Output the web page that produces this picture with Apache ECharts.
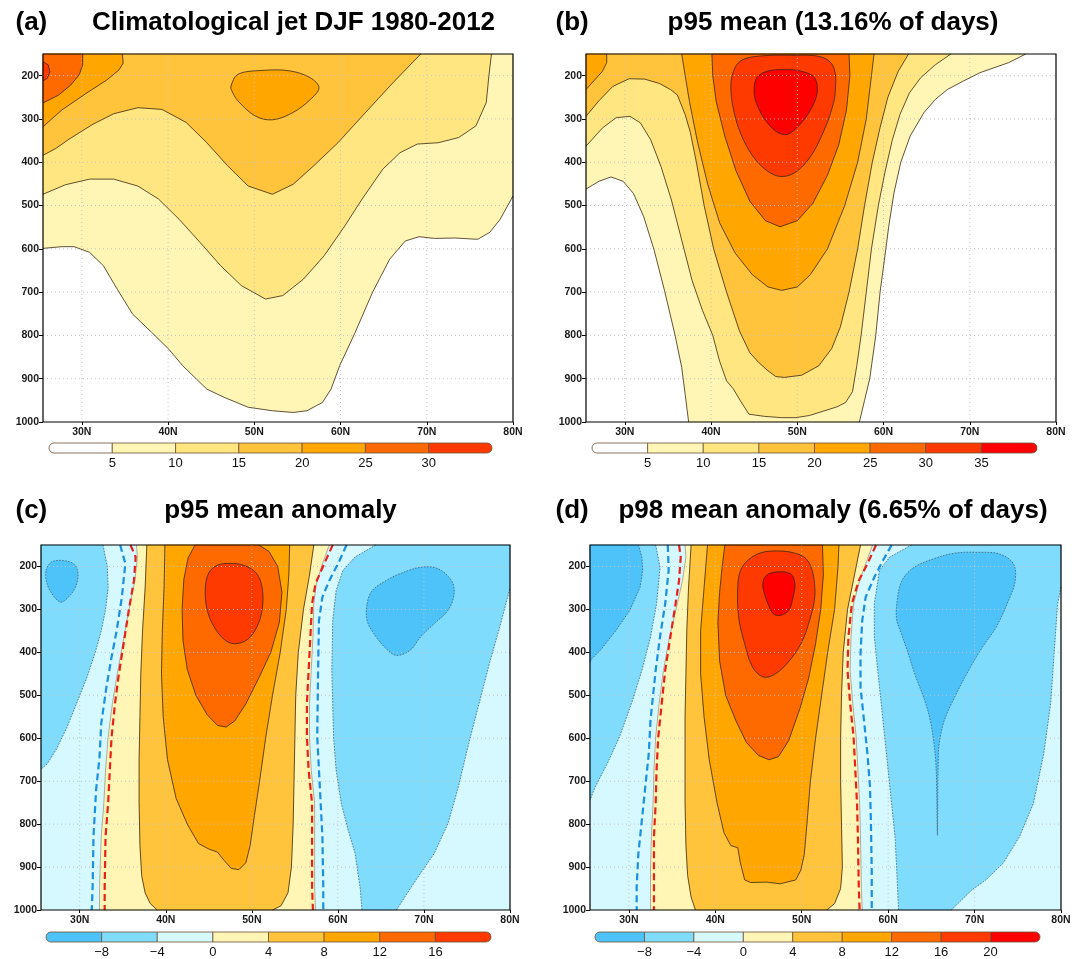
<!DOCTYPE html>
<html>
<head>
<meta charset="utf-8">
<script src="https://cdn.jsdelivr.net/npm/echarts@6.0.0/dist/echarts.min.js"></script>
<style>
html, body { margin: 0; padding: 0; background: #fff; }
#chart { width: 1079px; height: 959px; }
</style>
</head>
<body>
<div id="chart"></div>
<script>
// axes
const latMin = 25.5, latMax = 80, pTop = 150, pBot = 1000;
const latTicks = [30, 40, 50, 60, 70, 80];
const pTicks = [200, 300, 400, 500, 600, 700, 800, 900, 1000];
const latGrid = [30, 40, 50, 60, 70];
const pGrid = [200, 300, 400, 500, 600, 700, 800, 900];

// shading classes (colour bars)
const warmColors = ['#ffffff', '#fff5b4', '#ffe680', '#ffc43c', '#ffa600', '#ff6a00', '#ff3a00', '#ff0000'];
const anomColors = ['#4dc3fa', '#80dcfc', '#d5f9ff', '#fff5b4', '#ffc43c', '#ffa600', '#ff6a00', '#ff3a00', '#ff0000'];
const aBarLabels = ['5', '10', '15', '20', '25', '30'];
const bBarLabels = ['5', '10', '15', '20', '25', '30', '35'];
const cBarLabels = ['\u22128', '\u22124', '0', '4', '8', '12', '16'];
const dBarLabels = ['\u22128', '\u22124', '0', '4', '8', '12', '16', '20'];

// (a) climatological jet, contour lines [lat, hPa]
const aLine5 = [[25.5,599],[27.7,595],[29.1,595],[30.9,608],[32.5,639],[34.1,693],[35.9,751],[38.1,793],[40.1,832],[41.7,870],[43.3,901],[44.5,924],[46.5,943],[49.3,966],[52.1,974],[54.5,978],[56.1,974],[57.9,955],[58.9,924],[59.9,870],[61.7,793],[63.7,701],[65.7,624],[67.5,582],[69.1,572],[70.9,576],[73.3,575],[75.9,578],[77.3,562],[78.5,532],[80,478]];
const aLine10 = [[25.5,474],[28.1,452],[30.9,439],[33.7,439],[36.5,455],[38.9,485],[41.3,532],[43.7,585],[46.1,639],[48.5,685],[51.3,716],[53.3,708],[55.7,670],[58.1,616],[60.5,547],[62.5,485],[64.9,416],[66.9,378],[68.9,358],[71.3,355],[73.7,343],[75.7,316],[76.9,262],[77.2,201],[77.5,150]];
const aLine15 = [[25.5,384],[27,368],[28.5,347],[31.3,312],[33.7,288],[36.5,274],[39.3,278],[42.1,308],[44.5,355],[46.9,408],[49.3,455],[52.1,474],[54.5,451],[56.9,408],[59.7,355],[62.9,285],[66.1,216],[69.3,150]];
const aLine20w = [[25.5,318],[27.7,279],[30.5,241],[32.9,210],[34.3,187],[34.8,171],[34.7,150]];
const aLine20e = [[47.4,235],[47.3,224],[48.1,197],[50.9,188],[54.1,189],[56.5,205],[57.5,228],[56.5,255],[54.5,285],[52.1,302],[50.1,293],[48.1,258]];
const aLine25 = [[25.5,263],[27.3,245],[28.7,222],[29.7,198],[30.1,175],[30.1,150]];
const aLine30 = [[25.5,168],[26.1,175],[26.3,191],[26.0,206],[25.5,212]];

// (b) p95 mean
const bLine5w = [[25.5,462],[27.0,444],[28.4,434],[29.8,444],[31.0,472],[32.2,526],[33.4,603],[34.6,696],[35.8,797],[36.6,874],[37.0,936],[37.4,1000]];
const bLine5e = [[57.2,1000],[57.8,950],[58.4,900],[59.1,800],[59.6,700],[60.1,626],[60.6,549],[61.2,472],[62.0,400],[63.1,339],[64.7,285],[66.0,255],[67.4,232],[69.3,212],[71.2,193],[74.5,170],[76.5,150]];
const bLine10 = [[25.5,363],[27.4,321],[29.0,297],[30.6,294],[31.8,309],[33.0,348],[34.2,410],[35.4,487],[36.6,580],[37.8,673],[39.0,742],[40.2,800],[41.0,860],[41.8,905],[42.6,924],[43.4,951],[44.4,982],[46.2,987],[48.2,990],[49.8,990],[51.4,985],[53.0,975],[54.6,965],[55.6,955],[56.4,930],[56.9,870],[57.4,800],[58.0,700],[58.6,600],[59.4,500],[60.2,420],[61.0,350],[61.9,290],[63.0,240],[64.3,205],[66.0,175],[67.8,150]];
const bLine15 = [[25.5,294],[27.0,258],[28.6,225],[30.5,207],[32.3,208],[34.0,218],[35.3,232],[36.1,245],[37.0,290],[37.6,331],[38.3,400],[39.2,500],[40.3,600],[41.8,700],[43.3,790],[44.5,840],[45.5,862],[46.5,880],[47.5,895],[48.5,897],[50.5,892],[52.5,870],[54.0,830],[55.0,780],[56.0,700],[57.0,600],[57.8,500],[58.7,400],[59.6,320],[60.5,250],[61.7,190],[62.9,150]];
const bLine20w = [[25.5,232],[26.5,210],[27.4,190],[27.9,170],[27.9,150]];
const bLine20 = [[36.6,150],[37.0,200],[37.5,260],[38.4,350],[39.6,450],[41.0,540],[42.8,610],[44.8,660],[46.6,688],[48.2,696],[50.0,688],[51.5,660],[53.5,600],[55.5,500],[57.0,400],[58.0,300],[58.6,200],[58.9,150]];
const bLine25 = [[40.1,150],[40.2,200],[40.6,260],[41.6,340],[42.9,420],[44.5,490],[46.3,535],[48.0,549],[50.0,535],[51.8,495],[53.5,430],[54.8,360],[55.7,280],[56.1,200],[56.0,150]];
const bLine30 = [[42.3,232],[42.6,190],[43.5,165],[45.5,155],[49.5,153],[52.8,157],[54.2,180],[54.4,239],[53.8,290],[52.8,340],[51.6,385],[50.0,420],[48.4,433],[46.9,425],[45.2,395],[43.8,350],[42.8,295]];
const bLine35 = [[45.0,239],[45.3,205],[46.5,190],[48.5,186],[50.5,190],[52.0,205],[52.3,240],[51.5,280],[50.2,315],[48.8,336],[47.5,328],[46.2,300],[45.3,265]];

// (c) p95 mean anomaly
const cLineM8w = [[26.1,209],[26.7,190],[27.9,186],[29.3,194],[29.8,217],[29.5,248],[28.7,271],[27.8,283],[26.9,267],[26.2,240]];
const cLineM4w = [[32.7,150],[33.2,200],[33.3,250],[33.0,300],[32.5,350],[31.8,400],[30.8,460],[29.6,520],[28.5,575],[27.3,625],[26.2,660],[25.5,672]];
const cLineM4eA = [[64.4,150],[62.0,178],[60.6,209],[59.8,256],[59.4,326],[59.3,442],[59.5,597],[59.8,674],[60.4,752],[61.2,814],[62.0,868],[62.6,950],[62.8,1000]];
const cLineM4eB = [[66.8,1000],[68.8,938],[71.2,868],[72.8,798],[74.0,713],[75.2,612],[76.4,519],[77.6,426],[78.8,341],[80,250]];
const cLineM8e = [[63.4,287],[64.0,256],[65.6,233],[67.2,217],[69.6,202],[71.6,205],[73.2,233],[73.5,264],[72.8,302],[71.2,333],[69.6,364],[68.4,395],[66.8,407],[65.6,391],[64.2,357],[63.4,326]];
const cLine0w = [[36.6,150],[36.7,180],[36.4,233],[35.7,302],[35.0,380],[34.3,457],[33.8,519],[33.3,597],[33.0,674],[32.8,752],[32.5,829],[32.3,946],[32.3,1000]];
const cLine0e = [[57.4,1000],[57.3,946],[57.3,829],[57.3,752],[56.9,674],[56.7,597],[56.7,519],[56.9,442],[57.1,364],[57.2,287],[57.5,240],[58.2,194],[59.0,150]];
const cLine4w = [[37.8,150],[37.6,250],[37.3,350],[37.1,450],[37.0,550],[36.9,650],[36.9,750],[37.0,850],[37.2,920],[37.6,960],[38.2,985],[39.0,1000]];
const cLine4e = [[52.4,1000],[53.4,990],[54.2,960],[54.6,900],[54.8,800],[54.9,700],[55.0,600],[55.1,500],[55.4,400],[56.0,300],[56.7,220],[57.2,150]];
const cLine8 = [[39.9,150],[39.8,250],[39.6,350],[39.5,450],[39.7,550],[40.2,650],[41.2,740],[42.5,800],[43.8,845],[45.0,858],[46.0,865],[46.8,885],[47.6,903],[48.5,906],[49.3,890],[49.8,850],[50.3,780],[50.9,700],[51.6,600],[52.4,500],[53.3,400],[54.0,300],[54.3,220],[54.4,150]];
const cLine12 = [[43.4,150],[42.6,180],[42.1,230],[41.9,300],[42.0,372],[42.5,440],[43.5,500],[44.8,545],[46.0,570],[47.0,574],[48.0,560],[49.3,520],[50.8,460],[52.2,400],[53.2,330],[53.5,260],[53.0,200],[52.0,165],[50.8,150]];
const cLine16 = [[44.6,250],[45.0,215],[46.0,197],[47.5,193],[49.0,197],[50.5,215],[51.2,250],[51.2,300],[50.6,340],[49.5,370],[48.0,380],[46.8,370],[45.6,340],[44.8,300]];
const cRedW = [[35.9,150],[36.5,178],[36.3,233],[35.7,302],[35.1,380],[34.5,457],[34.1,519],[33.7,597],[33.5,674],[33.3,752],[33.0,829],[32.9,946],[32.9,1000]];
const cBlueW = [[34.7,150],[35.3,193],[34.9,271],[34.3,349],[33.7,411],[33.1,481],[32.5,566],[32.3,644],[31.9,721],[31.6,829],[31.5,946],[31.4,1000]];
const cRedE = [[59.4,150],[58.4,194],[57.4,240],[57.0,287],[56.8,364],[56.6,442],[56.4,519],[56.4,597],[56.6,674],[57.0,752],[57.0,829],[57.0,946],[57.1,1000]];
const cBlueE = [[61.0,150],[60.2,186],[59.0,233],[58.2,271],[57.8,326],[57.7,442],[57.6,597],[57.8,674],[58.0,752],[58.2,829],[58.3,946],[58.3,1000]];

// (d) p98 mean anomaly
const dLineM8w = [[31.1,150],[31.5,178],[31.6,209],[31.3,248],[30.1,302],[28.5,349],[26.7,395],[25.7,415],[25.5,422]];
const dLineM4w = [[33.1,150],[33.6,202],[33.2,287],[32.5,364],[31.5,442],[30.3,519],[28.9,597],[27.5,659],[26.1,713],[25.5,744]];
const dLineM4eA = [[62.7,150],[60.2,178],[59.0,209],[58.4,287],[58.4,364],[58.8,442],[59.2,519],[59.6,597],[60.0,674],[60.4,752],[60.8,829],[61.0,907],[61.2,1000]];
const dLineM4eB = [[67.3,1000],[69.7,953],[71.3,930],[73.3,891],[75.2,829],[76.8,752],[78.0,636],[78.8,519],[79.2,403],[79.6,287],[80,248]];
const dLineM8e = [[61.0,326],[61.0,287],[61.6,233],[63.0,202],[65.3,182],[67.7,169],[70.5,167],[72.9,171],[74.5,194],[74.7,233],[74.1,271],[72.5,341],[70.9,388],[69.3,442],[67.7,504],[66.5,558],[65.9,612],[65.8,651],[65.75,698],[65.7,826],[65.6,698],[65.5,651],[65.3,612],[64.9,560],[64.2,510],[63.2,457],[62.2,395],[61.4,349]];
const dLine0w = [[36.5,150],[36.6,178],[36.2,233],[35.6,287],[34.7,364],[34.0,442],[33.5,519],[33.1,597],[32.9,674],[32.8,752],[32.6,829],[32.5,907],[32.5,1000]];
const dLine0e = [[57.0,1000],[56.9,946],[56.8,829],[56.7,752],[56.5,674],[56.3,597],[55.9,519],[55.6,442],[55.7,364],[56.0,287],[56.7,233],[57.4,194],[58.2,150]];
const dLine4w = [[37.2,150],[36.9,250],[36.7,350],[36.6,450],[36.5,550],[36.5,650],[36.5,750],[36.6,850],[36.8,920],[37.2,970],[37.7,1000]];
const dLine4e = [[52.9,1000],[53.8,985],[54.5,950],[54.7,900],[54.6,800],[54.5,700],[54.5,600],[54.6,500],[54.8,400],[55.3,300],[56.0,230],[56.8,150]];
const dLine8 = [[39.1,150],[38.7,250],[38.3,350],[38.3,450],[38.7,550],[39.3,650],[40.2,750],[41.0,820],[41.8,850],[42.6,855],[42.9,890],[43.4,930],[44.1,936],[45.9,935],[47.5,939],[49.3,930],[49.9,907],[50.3,870],[50.6,800],[51.0,700],[51.6,600],[52.3,500],[53.0,400],[53.8,300],[54.2,200],[54.3,150]];
const dLine12 = [[41.1,150],[40.8,200],[40.5,260],[40.3,330],[40.5,420],[41.2,500],[42.4,560],[43.6,610],[45.0,640],[46.2,650],[47.3,643],[48.5,605],[49.8,530],[50.8,460],[51.6,380],[52.2,300],[52.5,220],[52.4,150]];
const dLine16 = [[42.6,248],[42.9,210],[43.8,185],[45.3,168],[47.1,164],[49.0,168],[50.5,182],[51.3,217],[51.5,271],[50.9,326],[49.9,380],[48.3,426],[46.7,453],[45.5,457],[44.3,434],[43.4,380],[42.7,318]];
const dLine20 = [[45.5,240],[45.9,221],[47.1,213],[48.7,217],[49.2,240],[49.0,271],[48.5,302],[47.5,314],[46.7,310],[46.1,287],[45.7,264]];
const dRedW = [[35.8,150],[36.0,178],[35.8,233],[35.4,287],[34.8,364],[34.2,442],[33.8,519],[33.4,597],[33.2,674],[33.1,752],[32.9,829],[32.9,907],[32.9,1000]];
const dBlueW = [[34.5,150],[34.6,209],[34.2,287],[33.6,364],[33.1,442],[32.7,519],[32.5,558],[32.3,636],[31.9,713],[31.5,791],[31.1,868],[30.9,946],[30.9,1000]];
const dRedE = [[58.6,150],[57.6,194],[56.6,233],[55.8,287],[55.4,364],[55.3,442],[55.6,519],[56.0,597],[56.2,674],[56.4,752],[56.5,829],[56.6,946],[56.7,1000]];
const dBlueE = [[60.4,150],[59.4,186],[58.4,225],[57.4,271],[57.0,326],[56.8,403],[56.8,481],[57.2,558],[57.6,636],[57.9,713],[58.0,791],[58.1,907],[58.1,1000]];

const TL = [latMin, pTop], TR = [latMax, pTop];

// filled regions: [colour class, polygon, closed loop?]
const aFills = [
  [1, [TL, ...aLine5, TR]], [2, [TL, ...aLine10]], [3, [TL, ...aLine15]],
  [4, [TL, ...aLine20w]], [4, aLine20e, true], [5, [TL, ...aLine25]], [6, aLine30]
];
const aLines = [['k', aLine5], ['k', aLine10], ['k', aLine15], ['k', aLine20w], ['k', aLine20e, true], ['k', aLine25], ['k', aLine30]];

const bFills = [
  [1, [TL, ...bLine5w, ...bLine5e]], [2, [TL, ...bLine10]], [3, [TL, ...bLine15]],
  [4, [TL, ...bLine20w]], [4, bLine20], [5, bLine25], [6, bLine30, true], [7, bLine35, true]
];
const bLines = [['k', bLine5w], ['k', bLine5e], ['k', bLine10], ['k', bLine15], ['k', bLine20w], ['k', bLine20], ['k', bLine25], ['k', bLine30, true], ['k', bLine35, true]];

const cFills = [
  [1, [TL, ...cLineM4w]], [1, [...cLineM4eA, ...cLineM4eB, TR]], [0, cLineM8w, true], [0, cLineM8e, true],
  [3, [...cLine0w, ...cLine0e]], [4, [...cLine4w, ...cLine4e]], [5, cLine8], [6, cLine12], [7, cLine16, true]
];
const cLines = [
  ['neg', cLineM4w], ['neg', cLineM4eA], ['neg', cLineM4eB], ['neg', cLineM8w, true], ['neg', cLineM8e, true],
  ['zero', cLine0w], ['zero', cLine0e], ['k', cLine4w], ['k', cLine4e], ['k', cLine8], ['k', cLine12], ['k', cLine16, true],
  ['blue', cBlueW], ['blue', cBlueE], ['red', cRedW], ['red', cRedE]
];

const dFills = [
  [1, [TL, ...dLineM4w]], [1, [...dLineM4eA, ...dLineM4eB, TR]], [0, [TL, ...dLineM8w]], [0, dLineM8e, true],
  [3, [...dLine0w, ...dLine0e]], [4, [...dLine4w, ...dLine4e]], [5, dLine8], [6, dLine12], [7, dLine16, true], [8, dLine20, true]
];
const dLines = [
  ['neg', dLineM4w], ['neg', dLineM4eA], ['neg', dLineM4eB], ['neg', dLineM8w], ['neg', dLineM8e, true],
  ['zero', dLine0w], ['zero', dLine0e], ['k', dLine4w], ['k', dLine4e], ['k', dLine8], ['k', dLine12], ['k', dLine16, true], ['k', dLine20, true],
  ['blue', dBlueW], ['blue', dBlueE], ['red', dRedW], ['red', dRedE]
];

const lineStyles = {
  k: { stroke: '#3a2a18', lineWidth: 0.8 },
  neg: { stroke: '#4b5c68', lineWidth: 0.8, lineDash: [1.5, 1.5] },
  zero: { stroke: '#8c8c8c', lineWidth: 0.7 },
  red: { stroke: '#e5221b', lineWidth: 2.2, lineDash: [7, 4] },
  blue: { stroke: '#1b8fe2', lineWidth: 2.2, lineDash: [7, 4] }
};
const loopSmooth = 0.35;

function panelSeries(gi, colors, fills, lines, bgLevel) {
  const items = [{ kind: 'bg', lev: bgLevel }];
  fills.forEach(f => items.push({ kind: 'fill', lev: f[0], pts: f[1], closed: !!f[2] }));
  latGrid.forEach(v => items.push({ kind: 'grid', pts: [[v, pTop], [v, pBot]] }));
  pGrid.forEach(v => items.push({ kind: 'grid', pts: [[latMin, v], [latMax, v]] }));
  lines.forEach(l => items.push({ kind: 'line', sty: l[0], pts: l[1], closed: !!l[2] }));
  items.push({ kind: 'frame' });
  return {
    type: 'custom', xAxisIndex: gi, yAxisIndex: gi, silent: true, animation: false,
    data: items.map((_, i) => [latMin, pTop, i]),
    renderItem: function (params, api) {
      const it = items[params.dataIndex];
      const z2 = params.dataIndex;
      if (it.kind === 'bg' || it.kind === 'frame') {
        const p0 = api.coord([latMin, pTop]), p1 = api.coord([latMax, pBot]);
        return {
          type: 'rect', z2: z2,
          shape: { x: p0[0], y: p0[1], width: p1[0] - p0[0], height: p1[1] - p0[1] },
          style: it.kind === 'bg' ? { fill: colors[it.lev] } : { fill: null, stroke: '#000', lineWidth: 1.2 }
        };
      }
      const pts = it.pts.map(p => api.coord(p));
      const smooth = it.closed ? loopSmooth : 0;
      if (it.kind === 'fill') {
        return { type: 'polygon', z2: z2, shape: { points: pts, smooth: smooth }, style: { fill: colors[it.lev], stroke: colors[it.lev], lineWidth: 0.5 } };
      }
      if (it.kind === 'grid') {
        return { type: 'polyline', z2: z2, shape: { points: pts }, style: { fill: null, stroke: '#c4c4c4', lineWidth: 1, lineDash: [1, 3] } };
      }
      return { type: it.closed ? 'polygon' : 'polyline', z2: z2, shape: { points: pts, smooth: smooth }, style: Object.assign({ fill: null }, lineStyles[it.sty]) };
    }
  };
}

function barSeries(gi, colors) {
  const n = colors.length;
  return {
    type: 'custom', xAxisIndex: gi, yAxisIndex: gi, silent: true, animation: false,
    data: colors.map((c, i) => [i, 0]),
    renderItem: function (params, api) {
      const i = params.dataIndex;
      const p0 = api.coord([i, 1]), p1 = api.coord([i + 1, 0]);
      const h = p1[1] - p0[1];
      let r = 0;
      if (i === 0) r = [h / 2, 0, 0, h / 2];
      else if (i === n - 1) r = [0, h / 2, h / 2, 0];
      return {
        type: 'rect',
        shape: { x: p0[0], y: p0[1], width: p1[0] - p0[0], height: h, r: r },
        style: { fill: colors[i], stroke: '#6b5038', lineWidth: 0.8 }
      };
    }
  };
}

const labelFont = '"Liberation Sans", Arial, sans-serif';
const panelGrids = [
  { left: 43, top: 54, width: 470, height: 368 },
  { left: 586, top: 54, width: 470, height: 368 },
  { left: 41, top: 545, width: 469, height: 365 },
  { left: 590, top: 545, width: 471, height: 365 }
];
const barGrids = [
  { left: 49, top: 443, width: 443, height: 10 },
  { left: 592, top: 443, width: 445, height: 10 },
  { left: 46, top: 932, width: 445, height: 10 },
  { left: 595, top: 932, width: 445, height: 10 }
];
const panelColors = [warmColors.slice(0, 7), warmColors.slice(0, 8), anomColors.slice(0, 8), anomColors.slice(0, 9)];
const barLabels = [aBarLabels, bBarLabels, cBarLabels, dBarLabels];

const xAxes = [], yAxes = [], grids = [];
panelGrids.forEach((g, i) => {
  grids.push(Object.assign({ containLabel: false, show: false }, g));
  xAxes.push({
    gridIndex: i, type: 'value', min: latMin, max: latMax,
    axisLine: { show: false },
    axisTick: { show: true, customValues: latTicks, length: 3, lineStyle: { color: '#000' } },
    axisLabel: { customValues: latTicks, formatter: v => v + 'N', fontSize: 10.5, fontWeight: 'bold', color: '#1a1a1a', margin: 5, fontFamily: labelFont },
    splitLine: { show: false }
  });
  yAxes.push({
    gridIndex: i, type: 'value', inverse: true, min: pTop, max: pBot,
    axisLine: { show: false },
    axisTick: { show: true, customValues: pTicks, length: 4, lineStyle: { color: '#000' } },
    axisLabel: { customValues: pTicks, formatter: v => String(v), fontSize: 10.5, fontWeight: 'bold', color: '#1a1a1a', margin: 4, fontFamily: labelFont },
    splitLine: { show: false }
  });
});
barGrids.forEach((g, i) => {
  const labels = barLabels[i];
  const n = panelColors[i].length;
  grids.push(Object.assign({ containLabel: false, show: false }, g));
  xAxes.push({
    gridIndex: 4 + i, type: 'value', min: 0, max: n, interval: 1,
    axisLine: { show: false }, axisTick: { show: false }, splitLine: { show: false },
    axisLabel: { formatter: v => (v >= 1 && v <= n - 1) ? labels[v - 1] : '', fontSize: 13, color: '#111', margin: 4, fontFamily: labelFont, showMinLabel: false, showMaxLabel: false }
  });
  yAxes.push({ gridIndex: 4 + i, type: 'value', min: 0, max: 1, show: false });
});

const titleFont = 'bold 26px "Liberation Sans", Arial, sans-serif';
function titleText(x, y, text, align) {
  return { type: 'text', x: x, y: y, silent: true, style: { text: text, font: titleFont, fill: '#000', textAlign: align, textVerticalAlign: 'middle', verticalAlign: 'middle' } };
}

const chart = echarts.init(document.getElementById('chart'), null, { renderer: 'canvas' });
chart.setOption({
  animation: false,
  backgroundColor: '#ffffff',
  grid: grids,
  xAxis: xAxes,
  yAxis: yAxes,
  graphic: [
    titleText(15.5, 22.5, '(a)', 'left'),
    titleText(293.5, 22.5, 'Climatological jet DJF 1980-2012', 'center'),
    titleText(555.5, 22.5, '(b)', 'left'),
    titleText(833, 22.5, 'p95 mean (13.16% of days)', 'center'),
    titleText(15.5, 510.5, '(c)', 'left'),
    titleText(280.5, 510.5, 'p95 mean anomaly', 'center'),
    titleText(555.5, 510.5, '(d)', 'left'),
    titleText(833, 510.5, 'p98 mean anomaly (6.65% of days)', 'center')
  ],
  series: [
    panelSeries(0, panelColors[0], aFills, aLines, 0),
    panelSeries(1, panelColors[1], bFills, bLines, 0),
    panelSeries(2, panelColors[2], cFills, cLines, 2),
    panelSeries(3, panelColors[3], dFills, dLines, 2),
    barSeries(4, panelColors[0]),
    barSeries(5, panelColors[1]),
    barSeries(6, panelColors[2]),
    barSeries(7, panelColors[3])
  ]
});
</script>
</body>
</html>
